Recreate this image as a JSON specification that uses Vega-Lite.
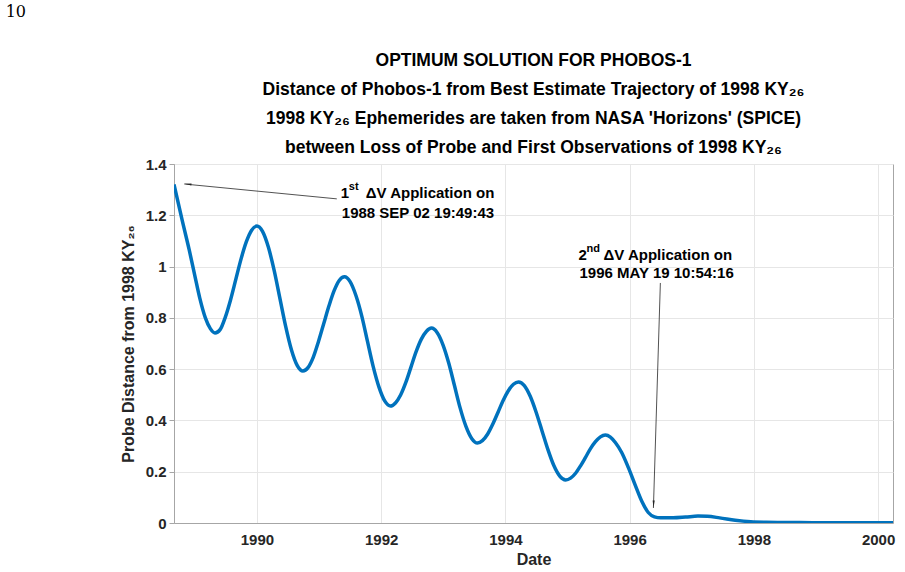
{
  "$schema": "https://vega.github.io/schema/vega-lite/v6.json",
  "background": "white",
  "padding": {"left": 5, "top": 4, "right": 0, "bottom": 0},
  "title": {"text": "10", "anchor": "start", "dx": -114, "font": "DejaVu Serif", "fontSize": 16, "fontWeight": "normal", "color": "#000", "offset": 31},
  "datasets": {
    "curve": [
      {"year": 1988.665, "dist": 1.32},
      {"year": 1988.8, "dist": 1.177},
      {"year": 1988.91, "dist": 1.065},
      {"year": 1989.0, "dist": 0.965},
      {"year": 1989.08, "dist": 0.877},
      {"year": 1989.17, "dist": 0.80},
      {"year": 1989.25, "dist": 0.758},
      {"year": 1989.325, "dist": 0.741},
      {"year": 1989.41, "dist": 0.755},
      {"year": 1989.49, "dist": 0.802},
      {"year": 1989.575, "dist": 0.87},
      {"year": 1989.66, "dist": 0.95},
      {"year": 1989.745, "dist": 1.03},
      {"year": 1989.83, "dist": 1.097},
      {"year": 1989.915, "dist": 1.142},
      {"year": 1990.0, "dist": 1.158},
      {"year": 1990.09, "dist": 1.137},
      {"year": 1990.185, "dist": 1.075},
      {"year": 1990.28, "dist": 0.982},
      {"year": 1990.37, "dist": 0.876},
      {"year": 1990.46, "dist": 0.77},
      {"year": 1990.555, "dist": 0.676},
      {"year": 1990.65, "dist": 0.614},
      {"year": 1990.74, "dist": 0.593},
      {"year": 1990.825, "dist": 0.607},
      {"year": 1990.908, "dist": 0.647},
      {"year": 1990.99, "dist": 0.707},
      {"year": 1991.075, "dist": 0.777},
      {"year": 1991.16, "dist": 0.847},
      {"year": 1991.243, "dist": 0.906},
      {"year": 1991.325, "dist": 0.946},
      {"year": 1991.41, "dist": 0.96},
      {"year": 1991.5, "dist": 0.941},
      {"year": 1991.595, "dist": 0.886},
      {"year": 1991.69, "dist": 0.805},
      {"year": 1991.78, "dist": 0.708},
      {"year": 1991.87, "dist": 0.612},
      {"year": 1991.965, "dist": 0.53},
      {"year": 1992.06, "dist": 0.475},
      {"year": 1992.15, "dist": 0.456},
      {"year": 1992.23, "dist": 0.468},
      {"year": 1992.315, "dist": 0.50},
      {"year": 1992.4, "dist": 0.55},
      {"year": 1992.48, "dist": 0.608},
      {"year": 1992.56, "dist": 0.666},
      {"year": 1992.645, "dist": 0.716},
      {"year": 1992.73, "dist": 0.748},
      {"year": 1992.81, "dist": 0.76},
      {"year": 1992.9, "dist": 0.743},
      {"year": 1992.995, "dist": 0.695},
      {"year": 1993.09, "dist": 0.622},
      {"year": 1993.18, "dist": 0.536},
      {"year": 1993.27, "dist": 0.45},
      {"year": 1993.365, "dist": 0.377},
      {"year": 1993.46, "dist": 0.329},
      {"year": 1993.55, "dist": 0.312},
      {"year": 1993.63, "dist": 0.321},
      {"year": 1993.715, "dist": 0.347},
      {"year": 1993.8, "dist": 0.387},
      {"year": 1993.88, "dist": 0.431},
      {"year": 1993.96, "dist": 0.476},
      {"year": 1994.045, "dist": 0.515},
      {"year": 1994.13, "dist": 0.541},
      {"year": 1994.21, "dist": 0.55},
      {"year": 1994.305, "dist": 0.536},
      {"year": 1994.40, "dist": 0.494},
      {"year": 1994.495, "dist": 0.432},
      {"year": 1994.59, "dist": 0.359},
      {"year": 1994.685, "dist": 0.286},
      {"year": 1994.78, "dist": 0.224},
      {"year": 1994.875, "dist": 0.183},
      {"year": 1994.97, "dist": 0.168},
      {"year": 1995.05, "dist": 0.175},
      {"year": 1995.13, "dist": 0.194},
      {"year": 1995.21, "dist": 0.223},
      {"year": 1995.29, "dist": 0.256},
      {"year": 1995.37, "dist": 0.29},
      {"year": 1995.45, "dist": 0.317},
      {"year": 1995.53, "dist": 0.336},
      {"year": 1995.61, "dist": 0.343},
      {"year": 1995.69, "dist": 0.335},
      {"year": 1995.77, "dist": 0.314},
      {"year": 1995.87, "dist": 0.276},
      {"year": 1995.98, "dist": 0.216},
      {"year": 1996.09, "dist": 0.148},
      {"year": 1996.2, "dist": 0.083},
      {"year": 1996.3, "dist": 0.041},
      {"year": 1996.4, "dist": 0.024},
      {"year": 1996.5, "dist": 0.02},
      {"year": 1996.7, "dist": 0.02},
      {"year": 1996.9, "dist": 0.023},
      {"year": 1997.1, "dist": 0.027},
      {"year": 1997.25, "dist": 0.026},
      {"year": 1997.45, "dist": 0.02},
      {"year": 1997.7, "dist": 0.011},
      {"year": 1997.95, "dist": 0.005},
      {"year": 1998.2, "dist": 0.003},
      {"year": 1998.6, "dist": 0.002},
      {"year": 1999.0, "dist": 0.001},
      {"year": 1999.5, "dist": 0.001},
      {"year": 2000.0, "dist": 0.001},
      {"year": 2000.24, "dist": 0.001}
    ],
    "arrows": [
      {"x": 1991.286, "y": 1.264, "x2": 1988.83, "y2": 1.322, "hx": 1988.907, "hy": 1.321, "angle": 275.6},
      {"x": 1996.495, "y": 0.936, "x2": 1996.383, "y2": 0.0585, "hx": 1996.386, "hy": 0.078, "angle": 181.8}
    ],
    "labels": [
      {"x": 1991.35, "y": 1.287, "num": "1", "sup": "st", "rest": "ΔV Application on", "line2": "1988 SEP 02 19:49:43", "y2": 1.209},
      {"x": 1995.177, "y": 1.045, "num": "2", "sup": "nd", "rest": "ΔV Application on", "line2": "1996 MAY 19 10:54:16", "y2": 0.975}
    ]
  },
  "vconcat": [
    {
      "width": 719,
      "height": 359,
      "title": {
        "text": [
          "OPTIMUM SOLUTION FOR PHOBOS-1",
          "Distance of Phobos-1 from Best Estimate Trajectory of 1998 KY₂₆",
          "1998 KY₂₆ Ephemerides are taken from NASA 'Horizons' (SPICE)",
          "between Loss of Probe and First Observations of 1998 KY₂₆"
        ],
        "font": "Liberation Sans", "fontSize": 17.5, "fontWeight": "bold", "color": "#000", "lineHeight": 29, "offset": 1, "anchor": "middle"
      },
      "layer": [
        {
          "data": {"name": "curve"},
          "mark": {"type": "line", "color": "#0072BD", "strokeWidth": 3.5, "interpolate": "monotone", "clip": true},
          "encoding": {
            "x": {"field": "year", "type": "quantitative",
              "scale": {"domain": [1988.665, 2000.24], "nice": false, "zero": false},
              "axis": {"title": "Date", "values": [1990, 1992, 1994, 1996, 1998, 2000], "format": "d", "grid": true, "ticks": false, "labelPadding": 9, "titlePadding": 4}},
            "y": {"field": "dist", "type": "quantitative",
              "scale": {"domain": [0, 1.4], "nice": false},
              "axis": {"title": "Probe Distance from 1998 KY₂₆", "values": [0, 0.2, 0.4, 0.6, 0.8, 1, 1.2, 1.4], "format": "~g", "grid": true, "tickSize": 5, "labelPadding": 3, "titlePadding": 9}}
          }
        },
        {
          "data": {"name": "arrows"},
          "mark": {"type": "rule", "color": "#262626", "strokeWidth": 0.8},
          "encoding": {
            "x": {"field": "x", "type": "quantitative"},
            "y": {"field": "y", "type": "quantitative"},
            "x2": {"field": "x2"},
            "y2": {"field": "y2"}
          }
        },
        {
          "data": {"name": "arrows"},
          "mark": {"type": "point", "shape": "wedge", "filled": true, "color": "#262626", "size": 70, "opacity": 1},
          "encoding": {
            "x": {"field": "hx", "type": "quantitative"},
            "y": {"field": "hy", "type": "quantitative"},
            "angle": {"field": "angle", "type": "quantitative", "scale": null}
          }
        },
        {
          "data": {"name": "labels"},
          "mark": {"type": "text", "align": "left", "baseline": "middle", "font": "Liberation Sans", "fontSize": 15, "fontWeight": "bold", "color": "#000"},
          "encoding": {
            "x": {"field": "x", "type": "quantitative"},
            "y": {"field": "y", "type": "quantitative"},
            "text": {"field": "num"}
          }
        },
        {
          "data": {"name": "labels"},
          "mark": {"type": "text", "align": "left", "baseline": "middle", "font": "Liberation Sans", "fontSize": 11, "fontWeight": "bold", "color": "#000", "dx": 8, "dy": -6},
          "encoding": {
            "x": {"field": "x", "type": "quantitative"},
            "y": {"field": "y", "type": "quantitative"},
            "text": {"field": "sup"}
          }
        },
        {
          "data": {"name": "labels"},
          "mark": {"type": "text", "align": "left", "baseline": "middle", "font": "Liberation Sans", "fontSize": 15, "fontWeight": "bold", "color": "#000", "dx": 25},
          "encoding": {
            "x": {"field": "x", "type": "quantitative"},
            "y": {"field": "y", "type": "quantitative"},
            "text": {"field": "rest"}
          }
        },
        {
          "data": {"name": "labels"},
          "mark": {"type": "text", "align": "left", "baseline": "middle", "font": "Liberation Sans", "fontSize": 15, "fontWeight": "bold", "color": "#000", "dx": 1},
          "encoding": {
            "x": {"field": "x", "type": "quantitative"},
            "y": {"field": "y2", "type": "quantitative"},
            "text": {"field": "line2"}
          }
        }
      ]
    }
  ],
  "config": {
    "view": {"stroke": "#a6a6a6", "strokeWidth": 1},
    "axis": {
      "labelFont": "Liberation Sans", "labelFontSize": 15, "labelFontWeight": "bold", "labelColor": "#262626",
      "titleFont": "Liberation Sans", "titleFontSize": 16, "titleFontWeight": "bold", "titleColor": "#262626",
      "domainColor": "#a6a6a6", "tickColor": "#a6a6a6", "gridColor": "#e6e6e6", "gridWidth": 1
    }
  }
}
